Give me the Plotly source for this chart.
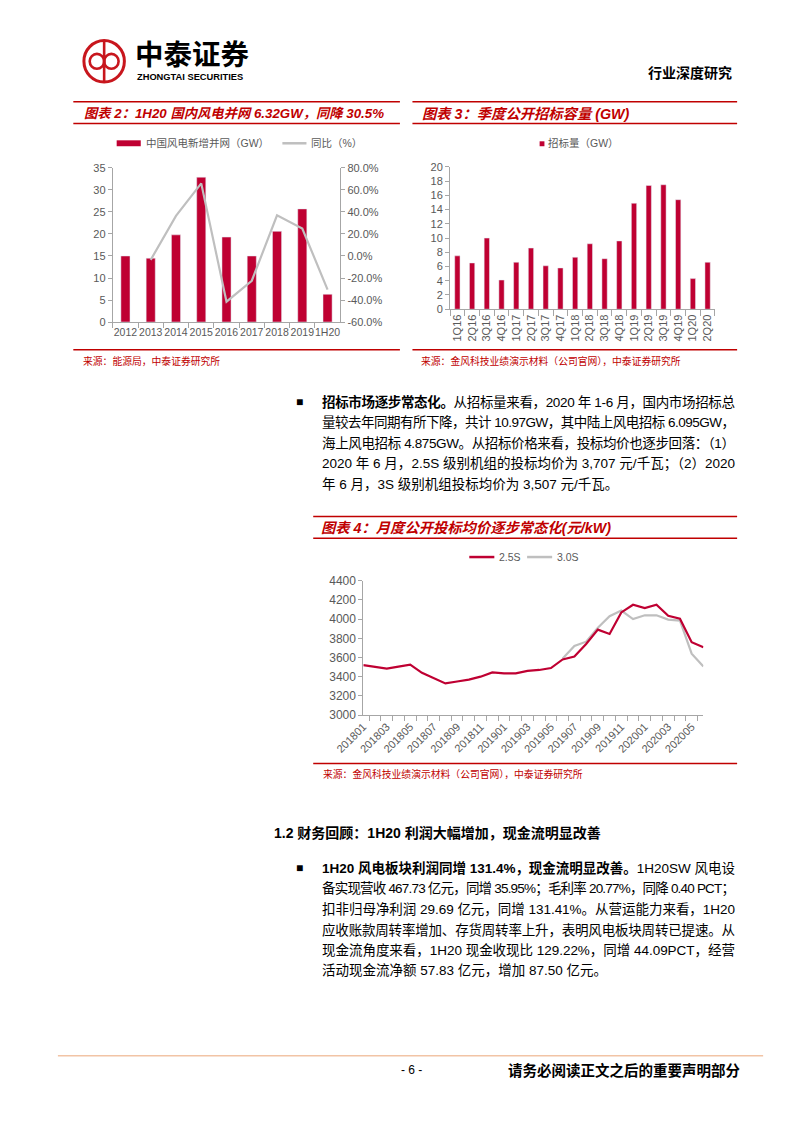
import json
import plotly.graph_objects as go

W, H = 793, 1122


def X(p):
    return p / W


def Y(p):
    return 1 - p / H


# ---------------- data ----------------
years = ["2012", "2013", "2014", "2015", "2016", "2017", "2018", "2019", "1H20"]
grid_gw = [15.0, 14.5, 19.8, 32.9, 19.3, 15.0, 20.6, 25.7, 6.3]
grid_yoy = [None, -3.5, 36.5, 66.0, -41.5, -22.5, 37.0, 25.0, -30.5]
yoy_tickvals = [-60, -40, -20, 0, 20, 40, 60, 80]
yoy_ticktext = ["-60.0%", "-40.0%", "-20.0%", "0.0%", "20.0%", "40.0%", "60.0%", "80.0%"]

quarters = ["1Q16", "2Q16", "3Q16", "4Q16", "1Q17", "2Q17", "3Q17", "4Q17",
            "1Q18", "2Q18", "3Q18", "4Q18", "1Q19", "2Q19", "3Q19", "4Q19",
            "1Q20", "2Q20"]
tender_gw = [7.5, 6.5, 10.0, 4.1, 6.6, 8.6, 6.1, 5.8, 7.3, 9.2, 7.1, 9.6,
             14.9, 17.4, 17.5, 15.4, 4.3, 6.6]

months = ["201801", "201802", "201803", "201804", "201805", "201806",
          "201807", "201808", "201809", "201810", "201811", "201812",
          "201901", "201902", "201903", "201904", "201905", "201906",
          "201907", "201908", "201909", "201910", "201911", "201912",
          "202001", "202002", "202003", "202004", "202005", "202006"]
price_25s = [3520, 3500, 3485, 3505, 3525, 3440, 3385, 3330, 3350, 3370,
             3400, 3445, 3435, 3435, 3460, 3470, 3490, 3580, 3610, 3740,
             3890, 3845, 4070, 4150, 4115, 4150, 4035, 4005, 3760, 3707]
price_30s = [None] * 17 + [3590, 3720, 3765, 3910, 4030, 4090, 4000, 4040,
                           4040, 3995, 3985, 3640, 3507]
month_ticktext = [m if i % 2 == 0 else "" for i, m in enumerate(months)]

# ---------------- styles ----------------
RED = "#BF0032"
TITLE_RED = "#C00000"
GRAY_LINE = "#BFBFBF"
AXIS = "#A6A6A6"
CJK = "Liberation Sans, Noto Sans CJK SC, sans-serif"
TICK_FONT = dict(family=CJK, size=11, color="#595959")

fig = go.Figure()

# Chart 2
fig.add_trace(go.Bar(x=years, y=grid_gw, marker_color=RED, name="中国风电新增并网（GW）",
                     xaxis="x", yaxis="y", showlegend=False))
fig.add_trace(go.Scatter(x=years, y=grid_yoy, mode="lines", line=dict(color=GRAY_LINE, width=2.2),
                         name="同比（%）", xaxis="x", yaxis="y2", showlegend=False))
# Chart 3
fig.add_trace(go.Bar(x=quarters, y=tender_gw, marker_color=RED, name="招标量（GW）",
                     xaxis="x2", yaxis="y3", showlegend=False))
# Chart 4
fig.add_trace(go.Scatter(x=months, y=price_30s, mode="lines", line=dict(color=GRAY_LINE, width=2.2),
                         name="3.0S", xaxis="x3", yaxis="y4", showlegend=False))
fig.add_trace(go.Scatter(x=months, y=price_25s, mode="lines", line=dict(color=RED, width=2.2),
                         name="2.5S", xaxis="x3", yaxis="y4", showlegend=False))


def ax(**kw):
    base = dict(showline=True, linecolor=AXIS, linewidth=1, showgrid=False, zeroline=False,
                ticks="outside", tickcolor=AXIS, ticklen=4, tickfont=TICK_FONT, fixedrange=True)
    base.update(kw)
    return base


fig.update_layout(
    width=W, height=H, autosize=False,
    margin=dict(l=0, r=0, t=0, b=0),
    paper_bgcolor="white", plot_bgcolor="white",
    bargap=0.64, showlegend=False,
    font=dict(family=CJK, color="#333333"),
    xaxis=ax(domain=[X(87), X(323)], anchor="y", type="category", tickson="boundaries",
             ticklen=5, tickangle=0, tickfont=dict(family=CJK, size=10.5, color="#595959")),
    yaxis=ax(domain=[Y(319), Y(163)], anchor="x", range=[0, 35], dtick=5),
    yaxis2=ax(overlaying="y", side="right", anchor="x", range=[-60, 80],
              tickvals=yoy_tickvals, ticktext=yoy_ticktext),
    xaxis2=ax(domain=[X(437), X(712)], anchor="y3", type="category", tickson="boundaries",
              tickangle=-90, ticklen=6),
    yaxis3=ax(domain=[Y(306), Y(162)], anchor="x2", range=[0, 20], dtick=2),
    xaxis3=ax(domain=[X(347), X(700)], anchor="y4", type="category", tickson="boundaries",
              tickvals=months, ticktext=month_ticktext, tickangle=-45, ticklen=5),
    yaxis4=ax(domain=[Y(717), Y(581)], anchor="x3", range=[3000, 4400], dtick=200,
              tickfont=dict(family=CJK, size=12, color="#595959")),
)

shapes = []
annotations = []


def hline(x0, x1, y, color=TITLE_RED, width=1.5):
    shapes.append(dict(type="line", xref="paper", yref="paper", x0=X(x0), x1=X(x1),
                       y0=Y(y), y1=Y(y), line=dict(color=color, width=width)))


def text(x, y, s, size=13.5, color="#000000", anchor="left", family=CJK):
    annotations.append(dict(xref="paper", yref="paper", x=X(x), y=Y(y), text=s, showarrow=False,
                            xanchor=anchor, yanchor="middle", align=anchor if anchor != "center" else "center",
                            font=dict(size=size, color=color, family=family)))
    return len(annotations) - 1


# ---------------- header ----------------
LOGO = "#C8161D"
shapes.append(dict(type="circle", xref="paper", yref="paper", x0=X(57), x1=X(99), y0=Y(76), y1=Y(34),
                   line=dict(color=LOGO, width=3)))
shapes.append(dict(type="circle", xref="paper", yref="paper", x0=X(63), x1=X(78), y0=Y(62.5), y1=Y(47.5),
                   line=dict(color=LOGO, width=2.6)))
shapes.append(dict(type="circle", xref="paper", yref="paper", x0=X(78), x1=X(93), y0=Y(62.5), y1=Y(47.5),
                   line=dict(color=LOGO, width=2.6)))
shapes.append(dict(type="line", xref="paper", yref="paper", x0=X(78), x1=X(78), y0=Y(75), y1=Y(35),
                   line=dict(color=LOGO, width=2.6)))
text(108, 46, "<b>中泰证券</b>", size=28.5, family="Noto Sans CJK SC")
text(110, 71, "<b>ZHONGTAI SECURITIES</b>", size=9.3, family="Liberation Sans")
text(732, 66, "<b>行业深度研究</b>", size=14, anchor="right", family="Noto Sans CJK SC")

# ---------------- chart titles & frames ----------------
hline(46, 385, 96)
hline(46, 385, 118)
hline(46, 385, 347)
text(55, 108, "<b><i>图表 2：1H20 国内风电并网 6.32GW，同降 30.5%</i></b>", size=13.3, color=TITLE_RED)
text(54, 358, "来源：能源局，中泰证券研究所", size=9.8, color=TITLE_RED)

hline(398, 735, 96)
hline(398, 735, 118)
hline(398, 735, 347)
text(406, 108, "<b><i>图表 3：季度公开招标容量 (GW)</i></b>", size=14.3, color=TITLE_RED)
text(405, 358, "来源：金风科技业绩演示材料（公司官网），中泰证券研究所", size=9.8, color=TITLE_RED)

hline(295, 735, 516)
hline(295, 735, 538)
hline(295, 735, 766)
text(301, 528, "<b><i>图表 4：月度公开投标均价逐步常态化(元/kW)</i></b>", size=14.3, color=TITLE_RED)
text(303, 777, "来源：金风科技业绩演示材料（公司官网），中泰证券研究所", size=9.8, color=TITLE_RED)

# ---------------- legends ----------------
LEG = dict(size=10.5, color="#595959")
shapes.append(dict(type="rect", xref="paper", yref="paper", x0=X(91), x1=X(116), y0=Y(141), y1=Y(135),
                   fillcolor=RED, line=dict(width=0)))
text(119, 138, "中国风电新增并网（GW）", **LEG)
hline(263, 288, 138, color=GRAY_LINE, width=2.5)
text(291, 138, "同比（%）", **LEG)

shapes.append(dict(type="rect", xref="paper", yref="paper", x0=X(530), x1=X(535), y0=Y(141), y1=Y(136),
                   fillcolor=RED, line=dict(width=0)))
text(537, 138, "招标量（GW）", **LEG)

hline(457, 483, 557, color=RED, width=2.5)
text(486, 557, "2.5S", **LEG)
hline(517, 543, 557, color=GRAY_LINE, width=2.5)
text(546, 557, "3.0S", **LEG)

# ---------------- body text ----------------
BODY = 13.5
justify = []
text(275, 400, "■", size=12)
lines1 = [
    "<b>招标市场逐步常态化。</b>从招标量来看，2020 年 1-6 月，国内市场招标总",
    "量较去年同期有所下降，共计 10.97GW，其中陆上风电招标 6.095GW，",
    "海上风电招标 4.875GW。从招标价格来看，投标均价也逐步回落：（1）",
    "2020 年 6 月，2.5S 级别机组的投标均价为 3,707 元/千瓦；（2）2020",
    "年 6 月，3S 级别机组投标均价为 3,507 元/千瓦。",
]
for i, s in enumerate(lines1):
    k = text(302, 400 + i * 20.8, s, size=BODY)
    if i < len(lines1) - 1:
        justify.append(k)

text(252, 836, "<b>1.2 财务回顾：1H20 利润大幅增加，现金流明显改善</b>", size=14)

text(275, 872, "■", size=12)
lines2 = [
    "<b>1H20 风电板块利润同增 131.4%，现金流明显改善。</b>1H20SW 风电设",
    "备实现营收 467.73 亿元，同增 35.95%；毛利率 20.77%，同降 0.40 PCT；",
    "扣非归母净利润 29.69 亿元，同增 131.41%。从营运能力来看，1H20",
    "应收账款周转率增加、存货周转率上升，表明风电板块周转已提速。从",
    "现金流角度来看，1H20 现金收现比 129.22%，同增 44.09PCT，经营",
    "活动现金流净额 57.83 亿元，增加 87.50 亿元。",
]
for i, s in enumerate(lines2):
    k = text(302, 872 + i * 20.8, s, size=BODY)
    if i < len(lines2) - 1:
        justify.append(k)

# ---------------- footer ----------------
hline(30, 762, 1062, color="#F2C4A5", width=1.5)
text(397, 1076, "- 6 -", size=12, anchor="center", family="Liberation Sans")
text(740, 1076, "<b>请务必阅读正文之后的重要声明部分</b>", size=14.5, anchor="right", family="Noto Sans CJK SC")

fig.update_layout(shapes=shapes, annotations=annotations)

# justify body lines to the right margin (x = 735 px), like the typeset page
post = """
document.body.style.margin='0';
function justifyLines(){
  var gd = document.getElementById('{plot_id}');
  var idx = %s;
  idx.forEach(function(i){
    var t = gd.querySelector('g.annotation[data-index="' + i + '"] text.annotation-text');
    if(!t) return;
    t.style.letterSpacing = '0px';
    var n = t.textContent.length;
    var r = t.getBoundingClientRect();
    var ls = (735 - r.right) / (n - 1);
    t.style.letterSpacing = ls.toFixed(3) + 'px';
  });
}
justifyLines();
if (document.fonts && document.fonts.ready) { document.fonts.ready.then(justifyLines); }
""" % json.dumps(justify)

fig.write_html("out.html", config={"displayModeBar": False, "staticPlot": True},
               post_script=post)
